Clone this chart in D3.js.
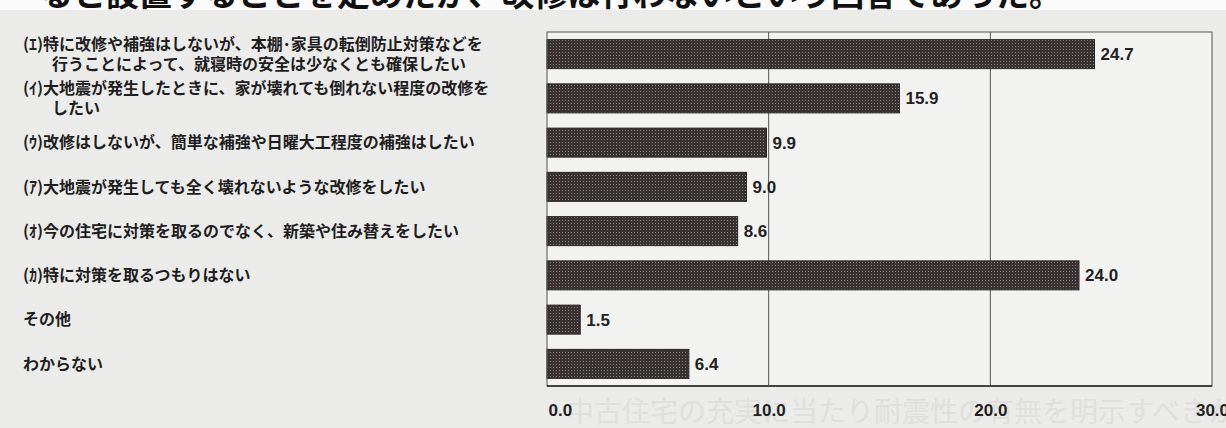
<!DOCTYPE html>
<html>
<head>
<meta charset="utf-8">
<script src="https://cdn.jsdelivr.net/npm/d3@7"></script>
<style>
body { margin:0; background:#ebebe9; }
svg { display:block; }
</style>
</head>
<body>
<svg id="chart"></svg>
<script>
// answer categories, one line per entry ("\n" = line break as printed)
var categories = [
    "(ｴ)特に改修や補強はしないが、本棚･家具の転倒防止対策などを\n行うことによって、就寝時の安全は少なくとも確保したい",
    "(ｲ)大地震が発生したときに、家が壊れても倒れない程度の改修を\nしたい",
    "(ｳ)改修はしないが、簡単な補強や日曜大工程度の補強はしたい",
    "(ｱ)大地震が発生しても全く壊れないような改修をしたい",
    "(ｵ)今の住宅に対策を取るのでなく、新築や住み替えをしたい",
    "(ｶ)特に対策を取るつもりはない",
    "その他",
    "わからない"
];

// percentages
var values = [24.7, 15.9, 9.9, 9.0, 8.6, 24.0, 1.5, 6.4];

var ticks = [0, 10, 20, 30];

// sentence cut off by the scan at the top, and the faint show-through at the bottom
var headerText = "ると設置することを定めたが、改修は行わないという回答であった。";
var ghostText = "中古住宅の充実に当たり耐震性の有無を明示すべきか";

var screen = {width:1226, height:428};
var plot = {left:547, right:1212, top:32, bottom:386};

var svg = d3.select("#chart")
    .attr("width", screen.width)
    .attr("height", screen.height);

// halftone look of the printed bars
var defs = svg.append("defs");
var pat = defs.append("pattern")
    .attr("id", "dots")
    .attr("patternUnits", "userSpaceOnUse")
    .attr("width", 3)
    .attr("height", 3);
pat.append("rect").attr("width", 3).attr("height", 3).attr("fill", "#383232");
pat.append("rect").attr("x", 1).attr("y", 1).attr("width", 1).attr("height", 1).attr("fill", "#878181");

// white strip at the top
svg.append("rect")
    .attr("width", screen.width)
    .attr("height", 10)
    .attr("fill", "#fbfbfb");
svg.append("text")
    .attr("x", 40)
    .attr("y", 6)
    .attr("font-family", "'Noto Sans CJK JP', sans-serif")
    .attr("font-size", 33)
    .attr("font-weight", "bold")
    .attr("fill", "#111")
    .text(headerText);

var xScale = d3.scaleLinear()
    .domain([0, 30])
    .range([plot.left, plot.right]);

var yScale = d3.scaleBand()
    .domain(d3.range(categories.length))
    .range([plot.top, plot.bottom])
    .paddingInner(0.345)
    .paddingOuter(0.1725);

// plot background
svg.append("rect")
    .attr("x", plot.left)
    .attr("y", plot.top)
    .attr("width", plot.right - plot.left)
    .attr("height", plot.bottom - plot.top)
    .attr("fill", "#f2f2f0");

// show-through text under the axis
svg.append("text")
    .attr("x", 566)
    .attr("y", 422)
    .attr("font-family", "'Noto Sans CJK JP', sans-serif")
    .attr("font-size", 28)
    .attr("fill", "#dfdfdc")
    .text(ghostText);

// gridlines
svg.append("g")
    .selectAll("line")
    .data(ticks.slice(1, -1))
    .enter()
    .append("line")
    .attr("x1", function(d) { return xScale(d); })
    .attr("x2", function(d) { return xScale(d); })
    .attr("y1", plot.top)
    .attr("y2", plot.bottom)
    .attr("stroke", "#555")
    .attr("stroke-width", 1);

// bars
svg.append("g")
    .selectAll("rect")
    .data(values)
    .enter()
    .append("rect")
    .attr("x", xScale(0))
    .attr("y", function(d, i) { return yScale(i); })
    .attr("width", function(d) { return xScale(d) - xScale(0); })
    .attr("height", yScale.bandwidth())
    .attr("fill", "url(#dots)")
    .attr("stroke", "#2a2525")
    .attr("stroke-width", 1);

// value labels
svg.append("g")
    .selectAll("text")
    .data(values)
    .enter()
    .append("text")
    .attr("x", function(d) { return xScale(d) + 6; })
    .attr("y", function(d, i) { return yScale(i) + yScale.bandwidth() / 2; })
    .attr("dy", "0.36em")
    .attr("font-family", "'Liberation Sans Narrow', 'Arial Narrow', 'Liberation Sans', sans-serif")
    .attr("font-size", 17)
    .attr("font-weight", "bold")
    .attr("fill", "#222")
    .text(function(d) { return d.toFixed(1); });

// frame
svg.append("rect")
    .attr("x", plot.left)
    .attr("y", plot.top)
    .attr("width", plot.right - plot.left)
    .attr("height", plot.bottom - plot.top)
    .attr("fill", "none")
    .attr("stroke", "#555")
    .attr("stroke-width", 1);
svg.append("line")
    .attr("x1", plot.left)
    .attr("x2", plot.right)
    .attr("y1", plot.bottom)
    .attr("y2", plot.bottom)
    .attr("stroke", "#444")
    .attr("stroke-width", 2);

// x axis labels
var xAxis = d3.axisBottom(xScale)
    .tickValues(ticks)
    .tickFormat(d3.format(".1f"))
    .tickSize(0)
    .tickPadding(18);

var axis = svg.append("g")
    .attr("transform", "translate(0," + plot.bottom + ")")
    .call(xAxis);
axis.select(".domain").remove();
axis.selectAll("text")
    .attr("font-family", "'Liberation Sans Narrow', 'Arial Narrow', 'Liberation Sans', sans-serif")
    .attr("font-size", 17)
    .attr("font-weight", "bold")
    .attr("fill", "#222");
axis.selectAll(".tick")
    .filter(function(d) { return d === 0; })
    .select("text")
    .attr("text-anchor", "start")
    .attr("x", 1);

// category labels
var labels = svg.append("g")
    .selectAll("text")
    .data(categories)
    .enter()
    .append("text")
    .attr("font-family", "'Noto Sans CJK JP', sans-serif")
    .attr("font-size", 16)
    .attr("font-weight", "bold")
    .attr("fill", "#1e1e1e");

labels.each(function(label, i) {
    var lines = label.split("\n");
    var mid = yScale(i) + yScale.bandwidth() / 2;
    var t = d3.select(this);
    lines.forEach(function(line, j) {
        var off = lines.length === 1 ? 0 : (j === 0 ? -10 : 10);
        t.append("tspan")
            .attr("x", j === 0 ? 23 : 52)
            .attr("y", mid + off)
            .attr("dy", "0.36em")
            .text(line);
    });
});
</script>
</body>
</html>
